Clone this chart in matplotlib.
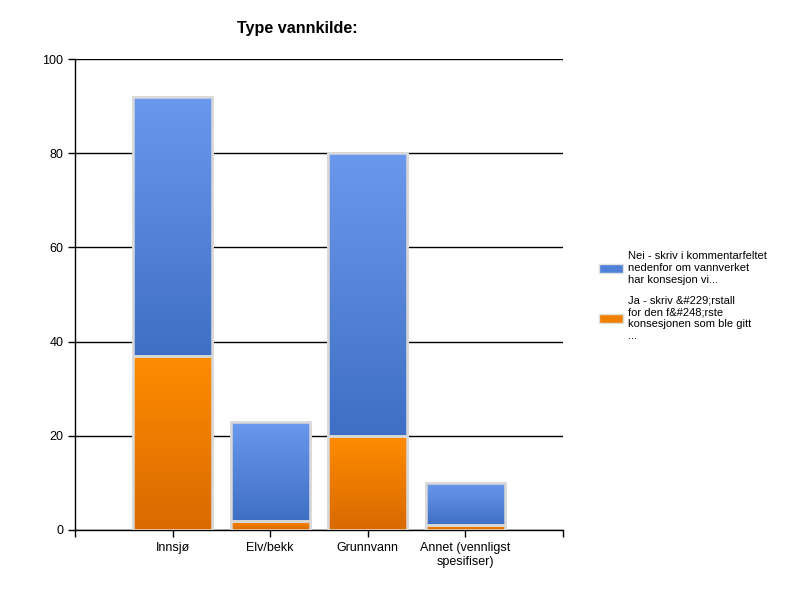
import matplotlib
matplotlib.use("Agg")
import matplotlib.pyplot as plt
import numpy as np
from matplotlib.colors import LinearSegmentedColormap
from matplotlib.patches import Patch

plt.rcParams['font.family'] = ['Liberation Sans', 'DejaVu Sans']

categories = ["Innsjø", "Elv/bekk", "Grunnvann", "Annet (vennligst\nspesifiser)"]
ja_values = [37, 2, 20, 1]
nei_values = [55, 21, 60, 9]
series_labels = ["Nei - skriv i kommentarfeltet\nnedenfor om vannverket\nhar konsesjon vi...",
                 "Ja - skriv &#229;rstall\nfor den f&#248;rste\nkonsesjonen som ble gitt\n..."]
yticks = [0, 20, 40, 60, 80, 100]

fig = plt.figure(figsize=(8, 6), dpi=100)
ax = fig.add_axes([75/800, 70/600, 488/800, 471/600])

x = np.arange(1, len(categories) + 1)
width = 0.81
edge = "#d9d9d9"

blue_cmap = LinearSegmentedColormap.from_list("b", ["#3f6fc4", "#6a98ec"])
orange_cmap = LinearSegmentedColormap.from_list("o", ["#d86a00", "#ff8c00"])

bars_ja = ax.bar(x, ja_values, width, color="#f08000", edgecolor=edge, linewidth=1.8, zorder=3)
bars_nei = ax.bar(x, nei_values, width, bottom=ja_values, color="#5080d8", edgecolor=edge,
                  linewidth=1.8, zorder=3)

grad = np.linspace(0, 1, 256).reshape(-1, 1)
for bars, cmap in ((bars_ja, orange_cmap), (bars_nei, blue_cmap)):
    for b in bars:
        x0, y0 = b.get_x(), b.get_y()
        w, h = b.get_width(), b.get_height()
        im = ax.imshow(grad, cmap=cmap, origin="lower", aspect="auto",
                       extent=(x0, x0 + w, y0, y0 + h), zorder=3.5)
        im.set_clip_path(b)
        ax.add_patch(plt.Rectangle((x0, y0), w, h, fill=False, edgecolor=edge,
                                   linewidth=1.8, zorder=4))

ax.set_xlim(0, 5)
ax.set_ylim(0, 100)
ax.set_yticks(yticks)
ax.set_xticks(x)
ax.set_xticklabels(categories, fontsize=9)
ax.set_xticks([0, 5], minor=True)
ax.tick_params(axis='x', which='both', length=5, width=1, colors="black")
ax.tick_params(axis='y', length=5, width=1, labelsize=9)
ax.yaxis.grid(True, color="black", linewidth=1, zorder=0)
ax.set_axisbelow(True)
for s in ("top", "right"):
    ax.spines[s].set_visible(False)
ax.spines["left"].set_linewidth(1)
ax.spines["bottom"].set_linewidth(1)

fig.text(297/800, 1 - 28/600, "Type vannkilde:", ha="center", va="center",
         fontsize=11.6, fontweight="bold")

handles = [Patch(facecolor="#4f81d9", edgecolor="#e0e0e0", linewidth=1),
           Patch(facecolor="#f08000", edgecolor="#e0e0e0", linewidth=1)]
fig.legend(handles, series_labels, loc="center left", bbox_to_anchor=(589/800, 1 - 296/600),
           frameon=False, fontsize=8, handlelength=2.2, handleheight=0.9,
           handletextpad=0.4, labelspacing=1.0)

fig.savefig("out.png", dpi=100)
